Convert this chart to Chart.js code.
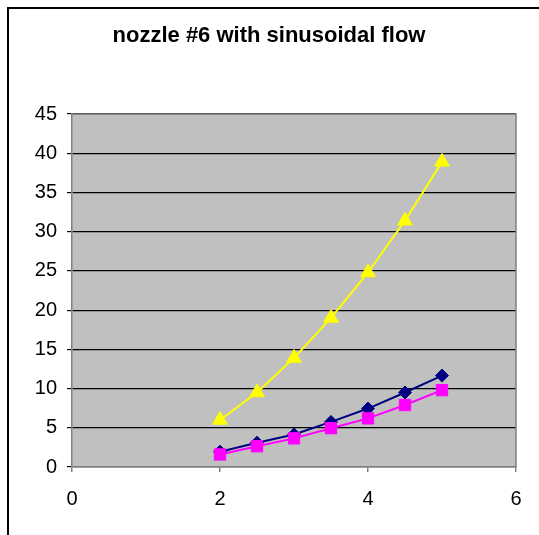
<!DOCTYPE html>
<html>
<head>
<meta charset="utf-8">
<script src="https://cdn.jsdelivr.net/npm/chart.js@4.4.1/dist/chart.umd.min.js"></script>
<style>
  html, body { margin: 0; padding: 0; background: #fff; }
  #wrap { width: 539px; height: 535px; }
</style>
</head>
<body>
<div id="wrap"><canvas id="nozzleChart" width="539" height="535"></canvas></div>
<script>
// data
const xValues = [2, 2.5, 3, 3.5, 4, 4.5, 5];
const navySeries = [1.95, 3.1, 4.15, 5.75, 7.45, 9.5, 11.65];
const pinkSeries = [1.6, 2.65, 3.65, 4.95, 6.2, 7.9, 9.8];
const yellowSeries = [6.0, 9.5, 13.9, 19.0, 24.8, 31.4, 38.9];
const yTicks = [0, 5, 10, 15, 20, 25, 30, 35, 40, 45];
const xTicks = [0, 2, 4, 6];

const toPoints = (ys) => xValues.map((x, i) => ({ x: x, y: ys[i] }));

// grey plot area + outer frame
const frame = {
    id: 'frame',
    beforeDraw(chart) {
        const ctx = chart.ctx;
        const a = chart.chartArea;
        ctx.save();
        ctx.fillStyle = '#fff';
        ctx.fillRect(0, 0, chart.width, chart.height);
        ctx.strokeStyle = '#000';
        ctx.lineWidth = 2;
        ctx.strokeRect(8, 8, 700, 700);
        ctx.fillStyle = '#C0C0C0';
        ctx.fillRect(a.left, a.top, a.right - a.left, a.bottom - a.top);
        ctx.restore();
    },
    afterDatasetsDraw(chart) {
        const ctx = chart.ctx;
        const a = chart.chartArea;
        ctx.save();
        ctx.strokeStyle = '#808080';
        ctx.lineWidth = 1.5;
        ctx.beginPath();
        ctx.moveTo(a.left, a.top);
        ctx.lineTo(a.right, a.top);
        ctx.lineTo(a.right, a.bottom);
        ctx.stroke();
        ctx.restore();
    }
};

window.onload = function() {
    const ctx = document.getElementById('nozzleChart').getContext('2d');
    new Chart(ctx, {
        type: 'scatter',
        data: {
            datasets: [{
                label: 'series 1',
                data: toPoints(navySeries),
                showLine: true,
                borderColor: '#000080',
                backgroundColor: '#000080',
                borderWidth: 2,
                pointStyle: 'rectRot',
                pointRadius: 6.5,
                pointBorderWidth: 1,
                order: 1
            }, {
                label: 'series 2',
                data: toPoints(pinkSeries),
                showLine: true,
                borderColor: '#FF00FF',
                backgroundColor: '#FF00FF',
                borderWidth: 2,
                pointStyle: 'rect',
                pointRadius: 8,
                pointBorderWidth: 1,
                order: 0
            }, {
                label: 'series 3',
                data: toPoints(yellowSeries),
                showLine: true,
                borderColor: '#FFFF00',
                backgroundColor: '#FFFF00',
                borderWidth: 2,
                pointStyle: 'triangle',
                pointRadius: 8.5,
                pointBorderWidth: 1,
                order: 2
            }]
        },
        options: {
            responsive: false,
            animation: false,
            layout: { padding: { left: 22, right: 23, top: 0, bottom: 0 } },
            plugins: {
                legend: { display: false },
                tooltip: { enabled: false },
                title: {
                    display: true,
                    text: 'nozzle #6 with sinusoidal flow',
                    color: '#000',
                    font: { family: 'Arial, "Liberation Sans"', size: 22, weight: 'bold', lineHeight: 1.2 },
                    padding: { top: 23, bottom: 64.6 }
                }
            },
            scales: {
                x: {
                    type: 'linear',
                    min: 0,
                    max: 6,
                    afterBuildTicks: (scale) => { scale.ticks = xTicks.map(v => ({ value: v })); },
                    afterFit: (scale) => { scale.height = 68; },
                    grid: {
                        drawOnChartArea: false,
                        drawTicks: true,
                        tickLength: 5,
                        color: '#808080',
                        lineWidth: 1.5
                    },
                    border: { color: '#808080', width: 1.5 },
                    ticks: {
                        color: '#000',
                        padding: 15,
                        maxRotation: 0,
                        font: { family: 'Arial, "Liberation Sans"', size: 20 }
                    }
                },
                y: {
                    type: 'linear',
                    min: 0,
                    max: 45,
                    afterBuildTicks: (scale) => { scale.ticks = yTicks.map(v => ({ value: v })); },
                    afterFit: (scale) => { scale.width = 50; },
                    grid: {
                        color: '#000',
                        lineWidth: 1.2,
                        drawTicks: true,
                        tickLength: 5
                    },
                    border: { color: '#808080', width: 1.5 },
                    ticks: {
                        color: '#000',
                        padding: 10,
                        font: { family: 'Arial, "Liberation Sans"', size: 20 }
                    }
                }
            }
        },
        plugins: [frame]
    });
};
</script>
</body>
</html>
